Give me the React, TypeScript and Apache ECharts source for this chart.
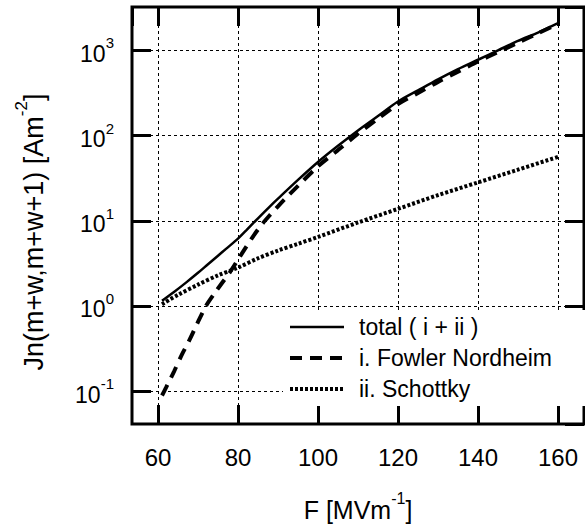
import React, { useEffect, useRef } from "react";
import * as echarts from "echarts";

// Field F [MV/m] and current density J [A/m^2]
const totalF = [61, 64, 67, 70, 72.5, 75, 77, 80, 82, 85, 88, 90, 95, 100, 105, 110, 115, 120, 125, 130, 135, 140, 145, 150, 155, 160];
const totalJ = [1.15, 1.46, 1.88, 2.45, 3.09, 3.89, 4.68, 6.17, 7.67, 10.7, 14.8, 18.2, 30.2, 49.0, 75.9, 115, 170, 251, 339, 457, 603, 776, 1000, 1290, 1620, 2090];

const fnF = [61, 62, 64, 66, 68, 70, 72, 74, 76, 78, 80, 82, 84, 86, 88, 90, 92, 95, 100, 105, 110, 115, 120, 125, 130, 135, 140, 145, 150, 155, 160];
const fnJ = [0.089, 0.11, 0.17, 0.27, 0.41, 0.65, 1.0, 1.38, 1.86, 2.5, 3.5, 4.9, 6.8, 9.1, 11.7, 14.8, 18.6, 25.7, 43.6, 67.6, 105, 158, 234, 316, 427, 562, 741, 955, 1230, 1585, 2040];

const schF = [61, 65, 70, 75, 80, 85, 90, 95, 100, 110, 120, 130, 140, 150, 160];
const schJ = [1.05, 1.35, 1.78, 2.29, 2.82, 3.63, 4.47, 5.37, 6.46, 9.55, 13.8, 20.0, 28.2, 39.8, 56.2];

const seriesNames = ["total ( i + ii )", "i. Fowler Nordheim", "ii. Schottky"];
const xTicks = [60, 80, 100, 120, 140, 160];
const yTickExponents = [-1, 0, 1, 2, 3];

const FONT = "'Liberation Sans', Arial, Helvetica, sans-serif";
const X_MIN = 53.5;
const X_MAX = 166.5;
const Y_MIN = Math.pow(10, -1.385);
const Y_MAX = Math.pow(10, 3.509);

const zip = (xs: number[], ys: number[]) => xs.map((x, i) => [x, ys[i]]);

export default function App() {
  const ref = useRef<HTMLDivElement>(null);
  useEffect(() => {
    if (!ref.current) return;
    const chart = echarts.init(ref.current, null, { renderer: "svg" });
    const tickStyle = { show: true, inside: true, length: 19, lineStyle: { color: "#000", width: 3 } };
    const gridLine = { show: true, lineStyle: { color: "#000", width: 1, type: [3, 3] } };
    const xFormatter = (v: number) => (xTicks.indexOf(Math.round(v * 1000) / 1000) >= 0 ? String(v) : "");
    const yFormatter = (v: number) => {
      const l = Math.log10(v);
      const e = Math.round(l);
      if (Math.abs(l - e) > 1e-6 || yTickExponents.indexOf(e) < 0) return "";
      return `{a|10}{s|${e}}`;
    };
    const yRich = {
      a: { fontFamily: FONT, fontSize: 23, color: "#000", lineHeight: 30, verticalAlign: "bottom" },
      s: { fontFamily: FONT, fontSize: 15, color: "#000", lineHeight: 15, verticalAlign: "top" },
    };
    const xNameRich = {
      a: { fontFamily: FONT, fontSize: 25, color: "#000", lineHeight: 32, verticalAlign: "bottom" },
      s: { fontFamily: FONT, fontSize: 16, color: "#000", lineHeight: 16, verticalAlign: "top" },
    };
    const yNameRich = {
      a: { fontFamily: FONT, fontSize: 27, fill: "#000", lineHeight: 34, verticalAlign: "bottom" },
      s: { fontFamily: FONT, fontSize: 17, fill: "#000", lineHeight: 17, verticalAlign: "top" },
    };
    chart.setOption({
      animation: false,
      backgroundColor: "#fff",
      grid: { left: 132, top: 7, right: 1, bottom: 97, show: true, borderColor: "#000", borderWidth: 3, containLabel: false },
      graphic: [
        {
          type: "text",
          x: 30,
          y: 232,
          rotation: Math.PI / 2,
          style: {
            text: "{a|Jn(m+w,m+w+1) [Am}{s|-2}{a|]}",
            rich: yNameRich,
            align: "center",
            verticalAlign: "middle",
            fill: "#000",
          },
        },
      ],
      legend: {
        orient: "vertical",
        left: 283,
        top: 310,
        padding: [5, 5, 5, 5],
        backgroundColor: "#fff",
        itemWidth: 54,
        itemHeight: 14,
        itemGap: 7,
        selectedMode: false,
        data: seriesNames,
        lineStyle: { width: "inherit", type: "inherit" },
        itemStyle: { color: "rgba(0,0,0,0)", borderColor: "rgba(0,0,0,0)", borderWidth: 0, opacity: 0 },
        textStyle: { fontFamily: FONT, fontSize: 23, color: "#000", lineHeight: 24, padding: [0, 0, 0, 10], width: 222 },
      },
      xAxis: [
        {
          type: "value",
          min: X_MIN,
          max: X_MAX,
          splitNumber: 5,
          axisLine: { show: false },
          axisTick: tickStyle,
          splitLine: gridLine,
          axisLabel: { formatter: xFormatter, margin: 21, fontFamily: FONT, fontSize: 24, color: "#000", showMinLabel: false, showMaxLabel: false },
          name: "{a|F [MVm}{s|-1}{a|]}",
          nameLocation: "middle",
          nameGap: 66,
          nameTextStyle: { rich: xNameRich },
        },
        {
          type: "value",
          position: "top",
          min: X_MIN,
          max: X_MAX,
          splitNumber: 5,
          axisLine: { show: false },
          axisTick: tickStyle,
          splitLine: { show: false },
          axisLabel: { show: false },
        },
      ],
      yAxis: [
        {
          type: "log",
          logBase: 10,
          min: Y_MIN,
          max: Y_MAX,
          axisLine: { show: false },
          axisTick: tickStyle,
          splitLine: gridLine,
          minorTick: { show: false },
          axisLabel: { formatter: yFormatter, margin: 18, rich: yRich, showMinLabel: false, showMaxLabel: false },
        },
        {
          type: "log",
          logBase: 10,
          position: "right",
          min: Y_MIN,
          max: Y_MAX,
          axisLine: { show: false },
          axisTick: tickStyle,
          splitLine: { show: false },
          axisLabel: { show: false },
        },
      ],
      series: [
        {
          name: seriesNames[0],
          type: "line",
          symbol: "none",
          showSymbol: false,
          smooth: 0.3,
          data: zip(totalF, totalJ),
          lineStyle: { color: "#000", width: 2.5, type: "solid" },
          itemStyle: { color: "#000" },
          z: 5,
        },
        {
          name: seriesNames[1],
          type: "line",
          symbol: "none",
          showSymbol: false,
          smooth: 0.3,
          data: zip(fnF, fnJ),
          lineStyle: { color: "#000", width: 4, type: [12, 8], cap: "butt" },
          itemStyle: { color: "#000" },
          z: 4,
        },
        {
          name: seriesNames[2],
          type: "line",
          symbol: "none",
          showSymbol: false,
          smooth: 0.3,
          data: zip(schF, schJ),
          lineStyle: { color: "#000", width: 4, type: [3, 2], cap: "butt" },
          itemStyle: { color: "#000" },
          z: 3,
        },
      ],
    });
    return () => chart.dispose();
  }, []);
  return <div ref={ref} style={{ position: "fixed", left: 0, top: 0, width: 585, height: 527 }} />;
}
